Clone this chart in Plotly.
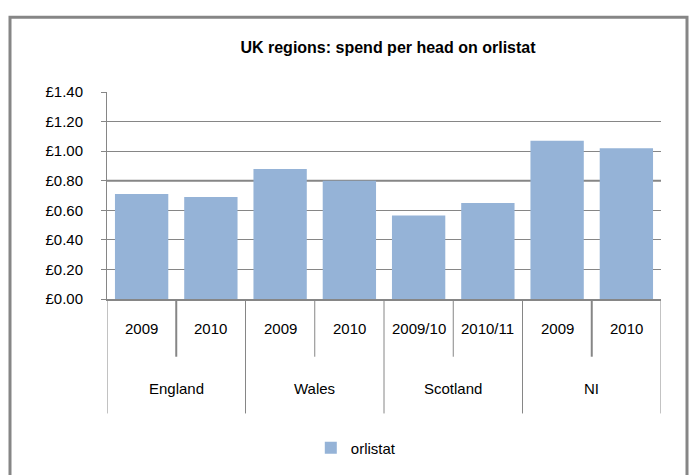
import plotly.graph_objects as go

regions = ["England", "England", "Wales", "Wales", "Scotland", "Scotland", "NI", "NI"]
periods = ["2009", "2010", "2009", "2010", "2009/10", "2010/11", "2009", "2010"]
orlistat = [0.71, 0.69, 0.88, 0.80, 0.565, 0.65, 1.07, 1.02]
y_ticks = [0, 0.2, 0.4, 0.6, 0.8, 1.0, 1.2, 1.4]
y_labels = ["£%.2f" % v for v in y_ticks]

W, H = 690, 475
L, R, T, B = 107, 29, 92, 175
pw, ph = W - L - R, H - T - B
GRAY = "#868686"
font = "Liberation Sans, Arial, sans-serif"

def py(pix):  # pixel row -> paper y
    return (H - B - pix) / ph

xs = list(range(len(orlistat)))

fig = go.Figure()
fig.add_trace(go.Bar(
    x=xs, y=orlistat, name="orlistat",
    marker=dict(color="#95b3d7", line=dict(width=0)),
))

annotations = []
shapes = []
# inner period labels
for i, p in enumerate(periods):
    annotations.append(dict(x=i, y=py(330), xref="x", yref="paper", text=p,
                            showarrow=False, font=dict(size=15), xanchor="center", yanchor="middle"))
# group labels and boundaries
groups = []
for i, r in enumerate(regions):
    if not groups or groups[-1][0] != r:
        groups.append([r, i, i])
    else:
        groups[-1][2] = i
for r, a, b in groups:
    annotations.append(dict(x=(a + b) / 2, y=py(390), xref="x", yref="paper", text=r,
                            showarrow=False, font=dict(size=15), xanchor="center", yanchor="middle"))
    shapes.append(dict(type="line", xref="x", yref="paper", x0=a - 0.5, x1=a - 0.5,
                       y0=0, y1=py(415), line=dict(color=GRAY, width=1)))
    for k in range(a + 1, b + 1):
        wide = r in ("England", "NI")
        shapes.append(dict(type="line", xref="x", yref="paper", x0=k - 0.5, x1=k - 0.5,
                           y0=0, y1=py(358), line=dict(color=GRAY, width=2 if wide else 1)))
shapes.append(dict(type="line", xref="x", yref="paper", x0=len(xs) - 0.5, x1=len(xs) - 0.5,
                   y0=0, y1=py(415), line=dict(color=GRAY, width=1)))
# emphasised gridline (as in reference)
shapes.append(dict(type="line", xref="paper", yref="y", x0=0, x1=1, y0=y_ticks[4], y1=y_ticks[4],
                   line=dict(color=GRAY, width=2), layer="below"))
# outer chart border
shapes.append(dict(type="rect", xref="paper", yref="paper",
                   x0=(10 - L) / pw, x1=(687 - L) / pw,
                   y0=py(H + 20), y1=py(17),
                   line=dict(color=GRAY, width=3), layer="below"))

fig.update_layout(
    width=W, height=H,
    margin=dict(l=L, r=R, t=T, b=B),
    paper_bgcolor="white", plot_bgcolor="white",
    font=dict(family=font, size=15, color="black"),
    bargap=0.23,
    showlegend=True,
    title=dict(text="<b>UK regions: spend per head on orlistat</b>",
               x=388 / W, xanchor="center", y=1 - 47 / H, yanchor="middle",
               font=dict(family=font, size=16, color="black")),
    legend=dict(orientation="h", x=0.45, xanchor="center", y=py(448), yanchor="middle",
                font=dict(size=15), itemwidth=30),
    xaxis=dict(range=[-0.5, len(xs) - 0.5], showticklabels=False, ticks="",
               showgrid=False, zeroline=False,
               showline=True, linecolor=GRAY, linewidth=2),
    yaxis=dict(range=[0, 1.4], tickvals=y_ticks, ticktext=y_labels,
               showgrid=True, gridcolor=GRAY, gridwidth=1,
               showline=True, linecolor=GRAY, linewidth=1,
               ticks="outside", ticklen=5, tickcolor=GRAY,
               ticklabelstandoff=15,
               zeroline=False, tickfont=dict(size=15)),
    annotations=annotations,
    shapes=shapes,
)
fig.write_html("out.html")
